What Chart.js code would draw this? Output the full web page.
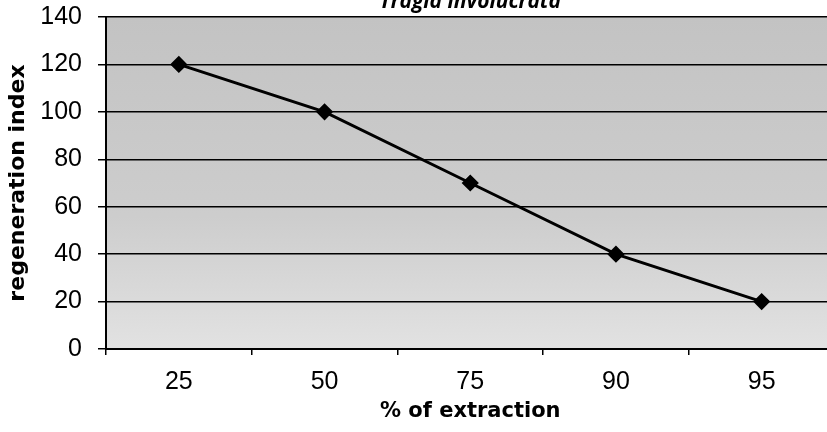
<!DOCTYPE html>
<html lang="en">
  <head>
    <meta charset="UTF-8" />
    <title>Tragia involucrata</title>
    <script src="https://cdn.jsdelivr.net/npm/chart.js"></script>
    <style>
      html, body {
        margin: 0;
        padding: 0;
        background: #fff;
        overflow: hidden;
      }
      #chartContainer {
        width: 844px;
        height: 432px;
      }
    </style>
  </head>
  <body>
    <div id="chartContainer">
      <canvas id="regenChart" width="844" height="432"></canvas>
    </div>

    <script>
      const extraction = ["25", "50", "75", "90", "95"];
      const regenIndex = [120, 100, 70, 40, 20];
      const chartTitle = "Tragia involucrata";

      // grey plot background plus the cut-off italic title
      const plotDecor = {
        id: "plotDecor",
        beforeDraw(chart) {
          const { ctx, chartArea } = chart;
          const grad = ctx.createLinearGradient(0, chartArea.top, 0, chartArea.bottom);
          grad.addColorStop(0, "#c3c3c3");
          grad.addColorStop(0.6, "#cdcdcd");
          grad.addColorStop(1, "#e2e2e2");
          ctx.save();
          ctx.fillStyle = grad;
          ctx.fillRect(chartArea.left, chartArea.top,
            chartArea.right - chartArea.left, chartArea.bottom - chartArea.top);
          ctx.restore();
        },
        afterDraw(chart) {
          const { ctx, chartArea } = chart;
          ctx.save();
          ctx.font = "italic bold 21px 'Open Sans', sans-serif";
          ctx.fillStyle = "#000";
          ctx.textAlign = "center";
          ctx.textBaseline = "alphabetic";
          ctx.fillText(chartTitle, (chartArea.left + chartArea.right) / 2, 8);
          ctx.restore();
        },
      };

      const ctx = document.getElementById("regenChart").getContext("2d");
      new Chart(ctx, {
        type: "line",
        data: {
          labels: extraction,
          datasets: [
            {
              data: regenIndex,
              borderColor: "#000",
              backgroundColor: "#000",
              borderWidth: 3,
              pointStyle: "rectRot",
              pointRadius: 6.5,
              tension: 0,
              fill: false,
            },
          ],
        },
        options: {
          responsive: false,
          animation: false,
          layout: {
            padding: { top: 17, right: 4, left: 0, bottom: 0 },
          },
          plugins: {
            legend: { display: false },
            title: { display: false },
            tooltip: { enabled: false },
          },
          scales: {
            x: {
              offset: true,
              grid: {
                offset: true,
                drawOnChartArea: false,
                color: "#000",
                tickLength: 6,
                lineWidth: 1.5,
              },
              border: { color: "#000", width: 2 },
              ticks: {
                color: "#000",
                padding: 12,
                font: { family: "Arial, 'Liberation Sans'", size: 25 },
              },
              title: {
                display: true,
                text: "% of extraction",
                color: "#000",
                padding: { top: 0, bottom: 8 },
                font: { family: "'DejaVu Sans'", size: 21, weight: "bold" },
              },
              afterFit(scale) {
                scale.height = 83;
                scale.paddingLeft = 0;
                scale.paddingRight = 0;
              },
            },
            y: {
              min: 0,
              max: 140,
              ticks: {
                stepSize: 20,
                color: "#000",
                padding: 16,
                font: { family: "Arial, 'Liberation Sans'", size: 25 },
              },
              grid: {
                color: "#000",
                lineWidth: 1.5,
                tickLength: 8,
              },
              border: { color: "#000", width: 2 },
              title: {
                display: true,
                text: "regeneration index",
                color: "#000",
                padding: { top: 5, bottom: 4 },
                font: { family: "'DejaVu Sans'", size: 22, weight: "bold" },
              },
              afterFit(scale) {
                scale.width = 106;
                scale.paddingTop = 0;
                scale.paddingBottom = 0;
              },
            },
          },
        },
        plugins: [plotDecor],
      });
    </script>
  </body>
</html>
